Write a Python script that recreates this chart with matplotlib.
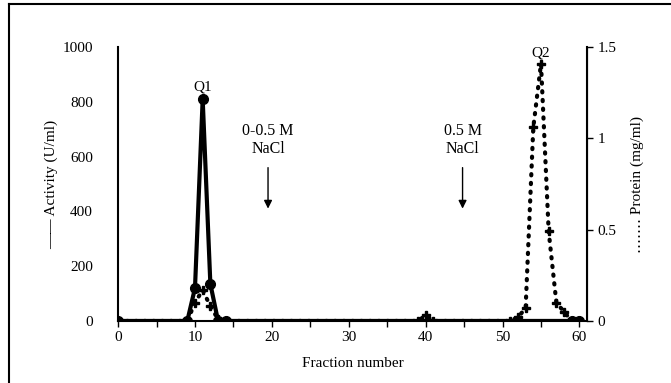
import matplotlib.pyplot as plt
import numpy as np
from matplotlib.lines import Line2D

plt.rcParams['font.family'] = ['Liberation Serif', 'DejaVu Serif']
plt.rcParams['font.size'] = 11

# activity (U/ml)
act_x = [0, 9, 10, 11, 12, 13, 14, 59, 60]
act_y = [0, 0, 120, 810, 135, 0, 0, 0, 0]

# protein (mg/ml)
prot_x = [0, 9, 10, 11, 12, 13, 14, 39, 40, 41, 51, 52, 53, 54, 55, 56, 57, 58, 59, 60]
prot_y = [0, 0, 0.10, 0.17, 0.08, 0.01, 0, 0, 0.03, 0, 0, 0.02, 0.07, 1.06, 1.41, 0.49, 0.10, 0.05, 0, 0]

fig = plt.figure(figsize=(6.71, 3.83), dpi=100)
ax = fig.add_axes([0.176, 0.162, 0.699, 0.715])
ax2 = ax.twinx()

ax.plot(act_x, act_y, '-o', color='black', lw=3, ms=7, zorder=3)
ax2.plot(prot_x, prot_y, color='black', lw=3, linestyle=(0, (0.3, 1.8)),
         dash_capstyle='round', marker='P', ms=6, zorder=2)

ax.set_xlim(0, 61)
ax.set_ylim(0, 1000)
ax2.set_ylim(0, 1.5)
ax.set_xticks(np.arange(0, 61, 5))
ax.set_xticklabels([str(v) if v % 10 == 0 else '' for v in range(0, 61, 5)])
ax.set_yticks([0, 200, 400, 600, 800, 1000])
ax2.set_yticks([0, 0.5, 1, 1.5])
ax2.set_yticklabels(['0', '0.5', '1', '1.5'])

for a in (ax, ax2):
    a.spines['top'].set_visible(False)
    a.tick_params(direction='out', width=1, length=4)
ax.spines['left'].set_linewidth(1.5)
ax.spines['bottom'].set_linewidth(1.5)
ax2.spines['right'].set_linewidth(1.5)
ax2.spines['left'].set_visible(False)
ax2.spines['bottom'].set_visible(False)
ax.tick_params(axis='y', length=1, color='#999999', pad=17)

ax.set_xlabel('Fraction number', labelpad=9)
ax.set_ylabel('\u2014\u2014 Activity (U/ml)', labelpad=3)
ax2.set_ylabel('\u2024\u2024\u2024\u2024\u2024\u2024\u2024 Protein (mg/ml)', labelpad=10)

ax.text(11, 830, 'Q1', ha='center', va='bottom')
ax2.text(55, 1.43, 'Q2', ha='center', va='bottom')

for xc, lab in [(19.5, '0-0.5 M\nNaCl'), (44.8, '0.5 M\nNaCl')]:
    ax.text(xc, 600, lab, ha='center', va='bottom', fontsize=11.5, linespacing=1.1)
    ax.annotate('', xy=(xc, 400), xytext=(xc, 570),
                arrowprops=dict(arrowstyle='-|>', color='black', lw=1,
                                mutation_scale=12))

# figure frame
fig.add_artist(Line2D([9/671, 9/671], [0, 1 - 4/383], transform=fig.transFigure, color='black', lw=1.5))
fig.add_artist(Line2D([9/671, 1], [1 - 4/383, 1 - 4/383], transform=fig.transFigure, color='black', lw=1.5))

fig.savefig('out.png', dpi=100)
